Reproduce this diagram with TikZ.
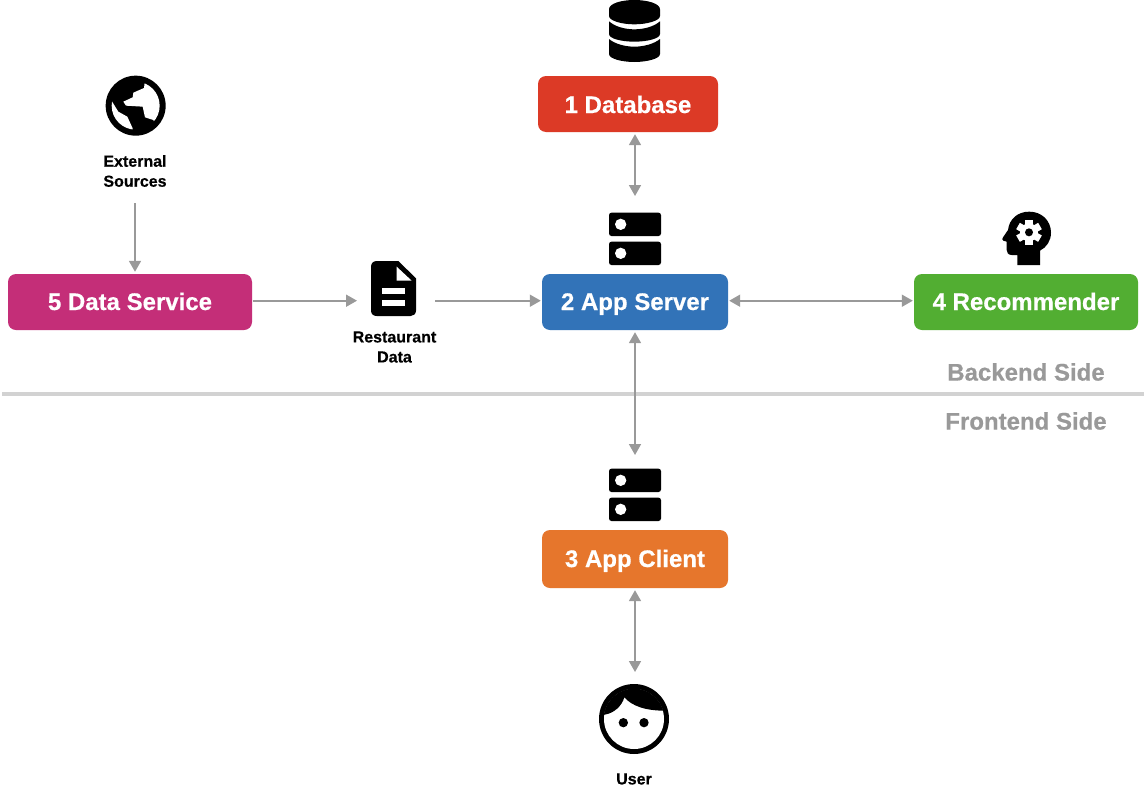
\documentclass[tikz,border=0pt]{standalone}
\usepackage{fontspec}
\setmainfont[BoldFeatures={FakeBold=0.5}]{Liberation Sans}
\usetikzlibrary{arrows.meta}
\definecolor{cred}{HTML}{DC3A26}
\definecolor{cblue}{HTML}{3273B8}
\definecolor{corange}{HTML}{E6762C}
\definecolor{cgreen}{HTML}{52AE32}
\definecolor{cmag}{HTML}{C42E78}
\definecolor{cgray}{HTML}{999999}
\definecolor{cline}{HTML}{D2D2D2}
\tikzset{
  box/.style={fill=#1,rounded corners=8pt,text=white,font=\fontsize{24}{28}\bfseries\selectfont,inner sep=0pt,anchor=center,text height=18pt,text depth=2pt},
  smalllabel/.style={font=\fontsize{16}{20}\bfseries\selectfont,align=center,text=black,inner sep=0pt},
  sidelabel/.style={font=\fontsize{24}{28}\bfseries\selectfont,text=cgray,inner sep=0pt},
  iconbox/.style={inner sep=0pt,outer sep=0pt,minimum width=#1},
  link/.style={draw=cgray,line width=1.7pt,-{Triangle[length=11pt,width=12pt]}},
  bilink/.style={draw=cgray,line width=1.7pt,{Triangle[length=11pt,width=12pt]}-{Triangle[length=11pt,width=12pt]}},
}
\newcommand{\servericon}[1]{%
  \begin{scope}[shift={(590,#1)},scale=1/3]
    \fill[black,rounded corners=2.5pt] (57,38) rectangle (213,108);
    \fill[black,rounded corners=2.5pt] (57,125) rectangle (213,195);
    \fill[white] (92,73) circle[radius=17];
    \fill[white] (92,160) circle[radius=17];
  \end{scope}}
\begin{document}
\begin{tikzpicture}[x=1pt,y=-1pt]
\useasboundingbox (0,0) rectangle (1146,798);
\fill[white] (0,0) rectangle (1146,798);
% separator
\coordinate (sepl) at (2,394);
\coordinate (sepr) at (1144,394);
\draw[cline,line width=3.5pt] (sepl) -- (sepr);
\node[sidelabel] (backend) at (1026,372) {Backend Side};
\node[sidelabel] (frontend) at (1026,421) {Frontend Side};
% boxes
\node[box=cred,minimum width=180pt,minimum height=56pt,text depth=0pt] (db) at (628,104) {1 Database};
\node[box=cblue,minimum width=186pt,minimum height=56pt] (srv) at (635,302) {2 App Server};
\node[box=corange,minimum width=186pt,minimum height=58pt] (cli) at (635,559) {3 App Client};
\node[box=cgreen,minimum width=224pt,minimum height=56pt] (rec) at (1026,302) {4 Recommender};
\node[box=cmag,minimum width=244pt,minimum height=56pt] (data) at (130,302) {5 Data Service};
% labels
\node[smalllabel] (ext) at (135,171) {External\\Sources};
\node[smalllabel] (rest) at (394.5,347) {Restaurant\\Data};
\node[smalllabel] (user) at (634,779) {User};
% icon anchors
\node[iconbox=52pt,minimum height=52pt] (srvicon) at (635,239) {};
\node[iconbox=52pt,minimum height=52pt] (cliicon) at (635,495) {};
\node[iconbox=46pt,minimum height=55pt] (docicon) at (394,289) {};
\node[iconbox=70pt,minimum height=70pt] (usericon) at (634,719) {};
\coordinate (mid) at (0,300.7);
% globe
\begin{scope}[shift={(90,60)},scale=1/3]
  \fill[black] (137,137) circle[radius=90];
  \begin{scope}
    \clip (137,137) circle[radius=72];
    \fill[white] (165,60) -- (162,84) -- (130,98) -- (128,112) -- (100,125) -- (108,137) -- (158,140) -- (165,172) -- (190,180) -- (200,200) -- (225,140) -- (215,80) -- cycle;
    \fill[white] (62,118) -- (85,155) -- (112,170) -- (128,205) -- (125,225) -- (50,200) -- (45,130) -- cycle;
  \end{scope}
\end{scope}
% database
\begin{scope}[shift={(590,0)},scale=1/3]
  \fill[black] (57,28) .. controls (57,10) and (95,0) .. (133,0) .. controls (171,0) and (210,10) .. (210,28) -- (210,48) .. controls (210,62) and (171,73) .. (133,73) .. controls (95,73) and (57,62) .. (57,48) -- cycle;
  \fill[black] (57,64) .. controls (75,80) and (105,88) .. (133,88) .. controls (161,88) and (192,80) .. (210,64) -- (210,102) .. controls (210,116) and (171,125) .. (133,125) .. controls (95,125) and (57,116) .. (57,102) -- cycle;
  \fill[black] (57,117) .. controls (75,132) and (105,140) .. (133,140) .. controls (161,140) and (192,132) .. (210,117) -- (210,162) .. controls (210,176) and (171,186) .. (133,186) .. controls (95,186) and (57,176) .. (57,162) -- cycle;
\end{scope}
% servers
\servericon{200}
\servericon{456}
% head with gear
\begin{scope}[shift={(990,200)},scale=1/3]
  \fill[black] (82,195) -- (82,165) -- (65,165) .. controls (55,165) and (50,158) .. (50,150) -- (50,125) -- (40,122) .. controls (36,120) and (36,116) .. (39,112) -- (54,90) .. controls (58,55) and (85,35) .. (118,35) .. controls (155,35) and (183,62) .. (183,98) .. controls (183,122) and (170,142) .. (150,152) -- (150,195) -- cycle;
  \fill[white] (117,97) circle[radius=27];
  \foreach \a in {0,60,...,300}{
    \fill[white,rotate around={\a:(117,97)}] (106,59) rectangle (128,80);
  }
  \fill[black] (117,97) circle[radius=12];
\end{scope}
% document
\begin{scope}[shift={(360,250)},scale=1/3]
  \fill[black] (50,33) -- (115,33) -- (168,85) -- (168,182) .. controls (168,192) and (160,198) .. (152,198) -- (50,198) .. controls (40,198) and (33,192) .. (33,182) -- (33,50) .. controls (33,40) and (40,33) .. (50,33) -- cycle;
  \fill[white] (110,50) -- (110,92) -- (155,92) -- cycle;
  \fill[white] (67,115) rectangle (135,133);
  \fill[white] (67,149) rectangle (135,167);
\end{scope}
% user
\begin{scope}[shift={(590,675)},scale=1/3]
  \fill[black] (132,132) circle[radius=105];
  \fill[white] (132,132) circle[radius=90];
  \begin{scope}
    \clip (132,132) circle[radius=91];
    \fill[black] (30,122) -- (48,118) .. controls (70,114) and (95,95) .. (103,67) .. controls (125,92) and (165,108) .. (230,107) -- (230,20) -- (30,20) -- cycle;
  \end{scope}
  \fill[black] (100,143) circle[radius=14];
  \fill[black] (162,143) circle[radius=14];
\end{scope}
% connectors
\draw[bilink,shorten <=2pt,shorten >=17pt] (srvicon.north |- db.south) -- (srvicon.north);
\draw[link,shorten <=16pt,shorten >=2pt] (ext.south) -- (ext.south |- data.north);
\draw[link,shorten <=1pt,shorten >=14pt] (data.east |- mid) -- (docicon.west |- mid);
\draw[link,shorten <=18pt,shorten >=1pt] (docicon.east |- mid) -- (srv.west |- mid);
\draw[bilink,shorten <=1pt,shorten >=1pt] (srv.east |- mid) -- (rec.west |- mid);
\draw[bilink,shorten <=2pt,shorten >=14pt] (srv.south) -- (cliicon.north);
\draw[bilink,shorten <=2pt,shorten >=12pt] (cli.south) -- (usericon.north -| cli.south);
\end{tikzpicture}
\end{document}
